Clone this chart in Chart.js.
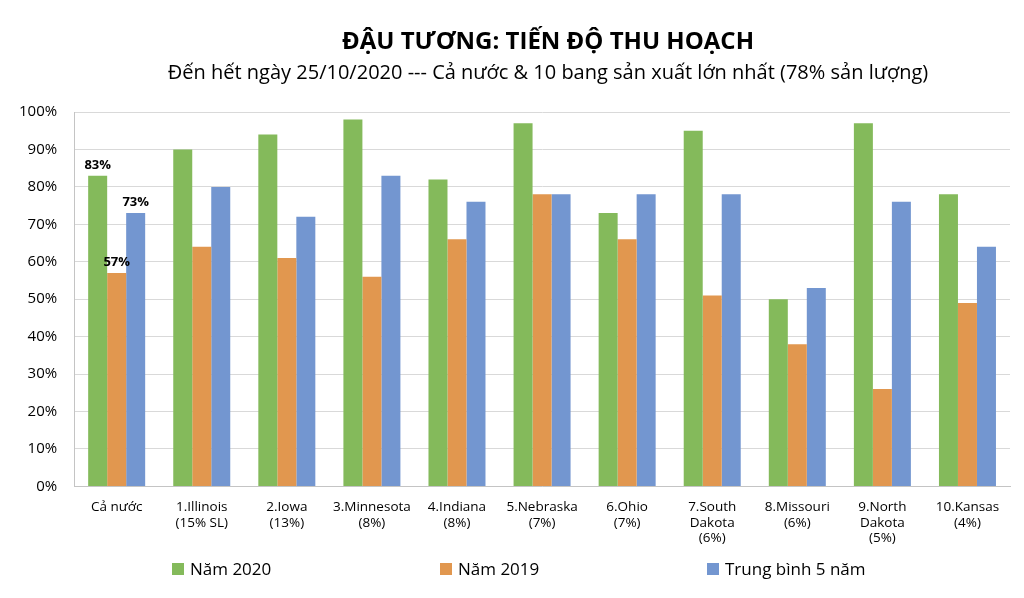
<!DOCTYPE html>
<html>
<head>
<meta charset="utf-8">
<script src="https://cdn.jsdelivr.net/npm/chart.js@4/dist/chart.umd.min.js"></script>
<style>
  html, body { margin: 0; padding: 0; background: #fff; }
  .chart-container { position: relative; width: 1024px; height: 598px; font-family: 'Open Sans', 'Noto Sans', sans-serif; color: #000; }
  .chart-title { position: absolute; left: 0; width: 1096px; text-align: center; top: 23px; font-size: 24px; font-weight: bold; }
  .chart-subtitle { position: absolute; left: 0; width: 1096px; text-align: center; top: 58px; font-size: 20px; }
  .legend { position: absolute; left: 0; top: 557px; width: 1024px; font-size: 17px; }
  .legend span.item { position: absolute; white-space: nowrap; }
  .legend i { display: inline-block; width: 12px; height: 12px; margin-right: 6px; vertical-align: 0px; }
</style>
</head>
<body>
<div class="chart-container">
  <canvas id="barChart" width="1024" height="598"></canvas>
  <div class="chart-title">ĐẬU TƯƠNG: TIẾN ĐỘ THU HOẠCH</div>
  <div class="chart-subtitle">Đến hết ngày 25/10/2020 --- Cả nước &amp; 10 bang sản xuất lớn nhất (78% sản lượng)</div>
  <div class="legend" id="legend"></div>
</div>
<script>
  const categories = [
    "Cả nước",
    ["1.Illinois", "(15% SL)"],
    ["2.Iowa", "(13%)"],
    ["3.Minnesota", "(8%)"],
    ["4.Indiana", "(8%)"],
    ["5.Nebraska", "(7%)"],
    ["6.Ohio", "(7%)"],
    ["7.South", "Dakota", "(6%)"],
    ["8.Missouri", "(6%)"],
    ["9.North", "Dakota", "(5%)"],
    ["10.Kansas", "(4%)"]
  ];
  const year2020 = [83, 90, 94, 98, 82, 97, 73, 95, 50, 97, 78];
  const year2019 = [57, 64, 61, 56, 66, 78, 66, 51, 38, 26, 49];
  const avg5yr = [73, 80, 72, 83, 76, 78, 78, 78, 53, 76, 64];

  (function initializeChart() {
    const ctx = document.getElementById("barChart").getContext("2d");
    const FONT = "'Open Sans', 'Noto Sans', sans-serif";

    // labels only on the first group (Cả nước)
    const firstGroupLabels = {
      id: "firstGroupLabels",
      afterDatasetsDraw(chart) {
        const c = chart.ctx;
        c.save();
        c.font = "bold 13px " + FONT;
        c.fillStyle = "#000";
        c.textAlign = "center";
        c.textBaseline = "bottom";
        chart.data.datasets.forEach((ds, i) => {
          const bar = chart.getDatasetMeta(i).data[0];
          c.fillText(ds.data[0] + "%", bar.x, bar.y - 4);
        });
        c.restore();
      }
    };

    const chart = new Chart(ctx, {
      type: "bar",
      data: {
        labels: categories,
        datasets: [
          { label: "Năm 2020", data: year2020, backgroundColor: "#84ba5b" },
          { label: "Năm 2019", data: year2019, backgroundColor: "#e1974f" },
          { label: "Trung bình 5 năm", data: avg5yr, backgroundColor: "#7396d0" }
        ]
      },
      options: {
        responsive: false,
        animation: false,
        layout: { padding: { left: 2, right: 14, top: 112, bottom: 47 } },
        datasets: {
          bar: { categoryPercentage: 0.67, barPercentage: 1.0 }
        },
        plugins: {
          legend: { display: false },
          tooltip: { enabled: false }
        },
        scales: {
          x: {
            grid: { display: false },
            border: { color: "#c4c4c4" },
            ticks: {
              color: "#000",
              font: { family: FONT, size: 13.5, lineHeight: 1.15 },
              padding: 5,
              maxRotation: 0,
              autoSkip: false
            }
          },
          y: {
            min: 0,
            max: 100,
            ticks: {
              stepSize: 10,
              color: "#000",
              font: { family: FONT, size: 15 },
              padding: 17,
              callback: (v) => v + "%"
            },
            grid: { color: "#d9d9d9", drawTicks: false },
            border: { color: "#c4c4c4" }
          }
        }
      },
      plugins: [firstGroupLabels]
    });

    // HTML legend, spread wide like the original
    const legendX = [172, 440, 707];
    const legend = document.getElementById("legend");
    chart.data.datasets.forEach((ds, i) => {
      const item = document.createElement("span");
      item.className = "item";
      item.style.left = legendX[i] + "px";
      item.innerHTML = '<i style="background:' + ds.backgroundColor + '"></i>' + ds.label;
      legend.appendChild(item);
    });
  })();
</script>
</body>
</html>
